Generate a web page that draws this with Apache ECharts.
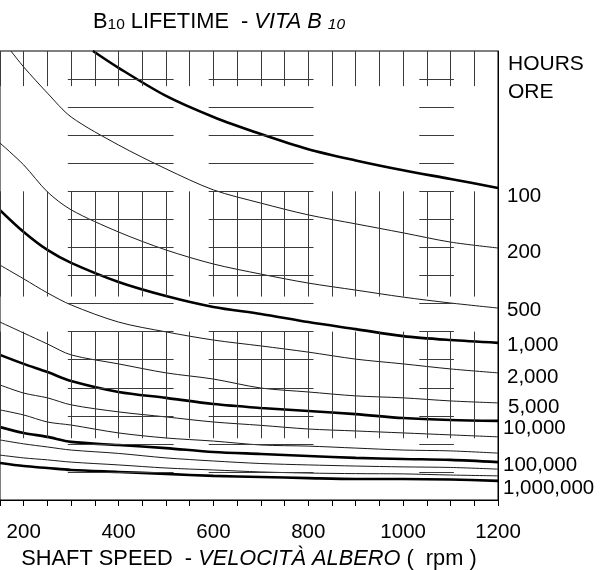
<!DOCTYPE html>
<html>
<head>
<meta charset="utf-8">
<script src="https://cdn.jsdelivr.net/npm/echarts@6/dist/echarts.min.js"></script>
<style>html,body{margin:0;padding:0;background:#fff}#c{width:614px;height:570px}</style>
</head>
<body>
<div id="c"></div>
<script>
// ---- data ----
const rpm = [150, 200, 250, 300, 400, 500, 600, 700, 800, 900, 1000, 1100, 1200];
const rpm100 = [346, 400, 500, 600, 700, 800, 900, 1000, 1100, 1200];
const load100 = [16, 15.4, 14.4, 13.65, 13.04, 12.5, 12.1, 11.75, 11.44, 11.12];
const rpm200 = [173, 200, 250, 300, 400, 500, 600, 700, 800, 900, 1000, 1100, 1200];
const load200 = [16, 15.43, 14.5, 13.65, 12.65, 11.8, 11.05, 10.58, 10.16, 9.84, 9.52, 9.19, 8.98];
const load500 = [12.72, 11.94, 10.98, 10.34, 9.55, 8.91, 8.41, 8.05, 7.73, 7.48, 7.23, 7.02, 6.84];
const load1000 = [10.33, 9.55, 8.91, 8.45, 7.77, 7.27, 6.88, 6.63, 6.34, 6.09, 5.84, 5.70, 5.60];
const load2000 = [8.37, 7.88, 7.38, 6.95, 6.34, 5.99, 5.70, 5.49, 5.27, 5.02, 4.85, 4.67, 4.53];
const load5000 = [6.34, 5.95, 5.56, 5.17, 4.85, 4.53, 4.31, 3.99, 3.85, 3.71, 3.64, 3.53, 3.46];
const load10000 = [5.17, 4.85, 4.56, 4.24, 3.85, 3.64, 3.42, 3.28, 3.17, 3.06, 2.92, 2.85, 2.82];
const load20000 = [4.10, 3.81, 3.64, 3.39, 3.14, 2.96, 2.78, 2.66, 2.53, 2.46, 2.39, 2.32, 2.25];
const load50000 = [3.21, 3.03, 2.78, 2.67, 2.39, 2.21, 2.10, 1.96, 1.92, 1.85, 1.78, 1.75, 1.67];
const load100000 = [2.60, 2.39, 2.25, 2.07, 1.96, 1.85, 1.71, 1.64, 1.57, 1.50, 1.46, 1.43, 1.35];
const load200000 = [2.14, 2.00, 1.89, 1.78, 1.66, 1.50, 1.39, 1.30, 1.25, 1.21, 1.18, 1.16, 1.10];
const load500000 = [1.60, 1.50, 1.43, 1.35, 1.25, 1.14, 1.07, 1.00, 0.96, 0.94, 0.93, 0.89, 0.86];
const load1000000 = [1.32, 1.21, 1.14, 1.07, 1.00, 0.93, 0.86, 0.82, 0.78, 0.75, 0.75, 0.73, 0.68];

const lifeLabels = ['100', '200', '500', '1,000', '2,000', '5,000', '10,000', '', '', '100,000', '', '', '1,000,000'];
const rightTitle = ['HOURS', 'ORE'];
const xTickLabels = [200, 400, 600, 800, 1000, 1200];

// grid line pattern of the reference (in data units)
const vBands = [[14.75, 16], [7.25, 11], [2.2, 6]];
const hSpans = [[293, 516], [590, 811], [1034, 1107]];

// ---- styling ----
const FONT = "'Liberation Sans', Arial, Helvetica, sans-serif";
const FS = 20.5;   // numbers
const FT = 21.8;   // words
const curves = [
  { x: rpm100, y: load100, thick: true, off: [4, 8] },
  { x: rpm200, y: load200, thick: false, off: [4, 4] },
  { x: rpm, y: load500, thick: false, off: [4, 2] },
  { x: rpm, y: load1000, thick: true, off: [4, 2] },
  { x: rpm, y: load2000, thick: false, off: [4, 4] },
  { x: rpm, y: load5000, thick: false, off: [5, 4] },
  { x: rpm, y: load10000, thick: true, off: [0, 7] },
  { x: rpm, y: load20000, thick: false, off: [0, 0] },
  { x: rpm, y: load50000, thick: false, off: [0, 0] },
  { x: rpm, y: load100000, thick: true, off: [0, 3] },
  { x: rpm, y: load200000, thick: false, off: [0, 0] },
  { x: rpm, y: load500000, thick: false, off: [0, 0] },
  { x: rpm, y: load1000000, thick: true, off: [0, 7] }
];

const X_MIN = 150, X_MAX = 1200, X_STEP = 50, Y_MIN = 0, Y_MAX = 16, Y_STEP = 1;

// grid segments built from the axis steps
const gridSegs = [];
for (let v = X_MIN; v < X_MAX; v += X_STEP) {
  vBands.forEach(b => gridSegs.push([{ coord: [v, b[0]] }, { coord: [v, b[1]] }]));
}
for (let h = Y_MIN + Y_STEP; h < Y_MAX; h += Y_STEP) {
  hSpans.forEach(s => gridSegs.push([{ coord: [s[0], h] }, { coord: [s[1], h] }]));
}

const series = [{
  type: 'line', data: [], silent: true, z: 1,
  markLine: {
    silent: true, symbol: ['none', 'none'], animation: false,
    label: { show: false },
    lineStyle: { color: '#3a3a3a', width: 1, type: 'solid' },
    emphasis: { disabled: true },
    data: gridSegs
  }
}];

curves.forEach((c, i) => {
  series.push({
    type: 'line',
    data: c.x.map((xv, k) => [xv, c.y[k]]),
    showSymbol: false, symbol: 'none',
    smooth: 0.3,
    clip: true, z: 3, silent: true,
    lineStyle: { color: c.thick ? '#000' : '#1a1a1a', width: c.thick ? 2.6 : 1 },
    endLabel: {
      show: lifeLabels[i] !== '',
      formatter: lifeLabels[i],
      distance: 5,
      offset: c.off,
      fontSize: FS, fontFamily: FONT, color: '#000'
    }
  });
});

const chart = echarts.init(document.getElementById('c'), null, { renderer: 'canvas' });
chart.setOption({
  animation: false,
  backgroundColor: '#fff',
  title: {
    text: '{b|B}{s|10}{b| LIFETIME  - }{i|VITA B }{si|10}',
    left: 93, top: 9, padding: 0,
    textStyle: {
      fontWeight: 'normal',
      rich: {
        b: { fontSize: FT, fontFamily: FONT, fontWeight: 'normal', color: '#000', lineHeight: 24, verticalAlign: 'bottom' },
        s: { fontSize: 15.5, fontFamily: FONT, fontWeight: 'normal', color: '#000', lineHeight: 20, verticalAlign: 'bottom' },
        i: { fontSize: FT, fontFamily: FONT, fontWeight: 'normal', fontStyle: 'italic', color: '#000', lineHeight: 24, verticalAlign: 'bottom' },
        si: { fontSize: 15.5, fontFamily: FONT, fontWeight: 'normal', fontStyle: 'italic', color: '#000', lineHeight: 20, verticalAlign: 'bottom' }
      }
    }
  },
  graphic: rightTitle.map((t, k) => ({
    type: 'text', left: 508, top: 54 + k * 28,
    style: { text: t, fontSize: 21, fontFamily: FONT, fill: '#000' }
  })),
  grid: {
    left: 0, right: 116, top: 51, bottom: 70,
    outerBoundsMode: 'none', containLabel: false,
    show: true, borderColor: '#000', borderWidth: 1, backgroundColor: 'transparent'
  },
  xAxis: {
    type: 'value', min: X_MIN, max: X_MAX, interval: X_STEP,
    axisLine: { show: true, lineStyle: { color: '#000', width: 1 } },
    axisTick: { show: true, length: 6, lineStyle: { color: '#000', width: 1 } },
    splitLine: { show: false },
    axisLabel: {
      margin: 22, fontSize: FS, fontFamily: FONT, color: '#000',
      formatter: v => (xTickLabels.indexOf(v) >= 0 ? String(v) : '')
    },
    name: '{n|SHAFT SPEED  - }{i|VELOCITÀ ALBERO}{n| (  rpm )}',
    nameLocation: 'middle', nameGap: 46,
    nameTextStyle: {
      rich: {
        n: { fontSize: FT, fontFamily: FONT, color: '#000' },
        i: { fontSize: FT, fontFamily: FONT, fontStyle: 'italic', color: '#000' }
      }
    }
  },
  yAxis: {
    type: 'value', min: Y_MIN, max: Y_MAX, interval: Y_STEP, position: 'right',
    axisLine: { show: true, lineStyle: { color: '#000', width: 1 } },
    axisTick: { show: false }, axisLabel: { show: false }, splitLine: { show: false }
  },
  series: series
});
</script>
</body>
</html>
